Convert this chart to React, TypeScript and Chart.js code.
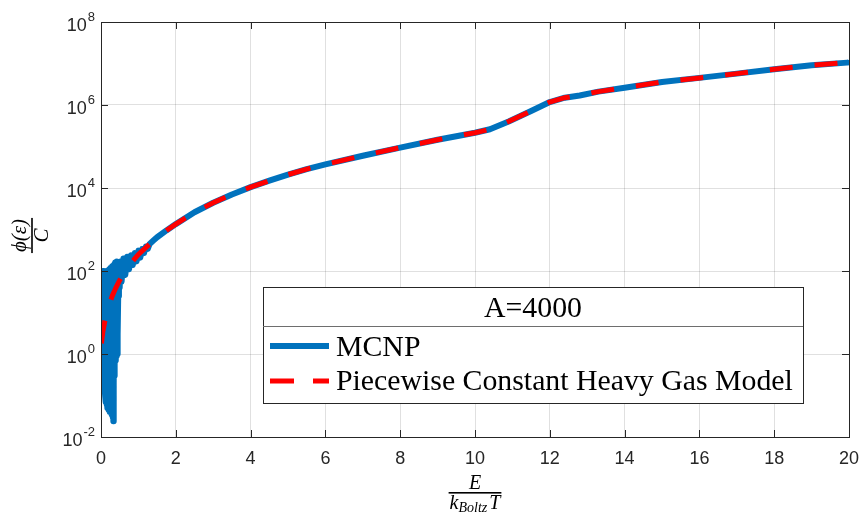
import React, { useEffect, useRef } from 'react';
import { Chart, registerables } from 'chart.js';

Chart.register(...registerables);

// ---- data ----
const xTickValues = [0, 2, 4, 6, 8, 10, 12, 14, 16, 18, 20];
const yTickExponents = [-2, 0, 2, 4, 6, 8];

const mcnpX = [
  0.0, 0.01, 0.02, 0.03, 0.04, 0.05, 0.06, 0.07, 0.08, 0.09,
  0.1, 0.11, 0.12, 0.13, 0.14, 0.15, 0.16, 0.17, 0.18, 0.19,
  0.2, 0.21, 0.22, 0.23, 0.24, 0.25, 0.26, 0.27, 0.28, 0.29,
  0.3, 0.31, 0.32, 0.33, 0.34, 0.35, 0.36, 0.37, 0.38, 0.39,
  0.4, 0.41, 0.42, 0.43, 0.44, 0.45,
  0.46, 0.48, 0.5, 0.52, 0.55, 0.6, 0.65, 0.7, 0.75, 0.8,
  0.85, 0.9, 0.95, 1.0, 1.05, 1.1, 1.15, 1.2, 1.25, 1.3, 1.4, 1.5, 1.75,
  2, 2.5, 3, 3.5, 4, 4.5, 5, 5.5, 6, 7, 8, 9, 10, 10.4, 10.9, 11.5, 12, 12.4,
  12.8, 13.3, 14, 15, 16, 17, 18, 19, 19.95,
];
const mcnpY = [
  90, 0.6, 100, 0.3, 85, 0.2, 100, 0.15, 70, 0.12,
  95, 0.1, 80, 0.07, 100, 0.06, 90, 0.05, 100, 0.05,
  85, 0.045, 110, 0.04, 100, 0.045, 120, 0.04, 110, 0.035,
  130, 0.03, 120, 0.024, 140, 0.3, 150, 0.5, 160, 0.7,
  150, 0.9, 170, 1.0, 160, 3,
  25, 130, 40, 170, 55, 200, 80, 220, 110, 240,
  140, 270, 170, 310, 210, 340, 270, 390, 340, 450, 540, 650, 950,
  1350, 2600, 4400, 7000, 10500, 15000, 21000, 28500, 37000, 60000, 94000, 145000, 215000, 260000, 400000, 720000, 1180000, 1500000,
  1700000, 2100000, 2600000, 3600000, 4500000, 5700000, 7300000, 9100000, 10500000,
];

const modelX = [
  0.01, 0.05, 0.1, 0.2, 0.3, 0.4, 0.5, 0.7, 1.0, 1.5, 1.75, 2, 2.5, 3, 3.5, 4, 4.5, 5, 5.5, 6, 7, 8, 9, 10,
  10.4, 10.9, 11.5, 12, 12.4, 12.8, 13.3, 14, 15, 16, 17, 18, 19, 19.9,
];
const modelY = [
  1.8, 3.5, 6, 14, 25, 40, 60, 120, 250, 650, 950, 1350, 2600, 4400, 7000, 10500, 15000, 21000, 28500, 37000, 60000, 94000, 145000, 215000,
  260000, 400000, 720000, 1180000, 1500000, 1700000, 2100000, 2600000, 3600000, 4500000, 5700000, 7300000, 9100000, 10500000,
];

const legendTitle = 'A=4000';
const seriesNames = ['MCNP', 'Piecewise Constant Heavy Gas Model'];
const xLabelNum = 'E';
const xLabelDen = ['k', 'Boltz', 'T'];
const yLabelNum = 'ϕ(ε)';
const yLabelDen = 'C';

const BLUE = '#0072BD';
const RED = '#FF0000';
const AXIS = '#262626';

const decorPlugin = {
  id: 'decor',
  afterDraw(chart: any) {
    const ctx: CanvasRenderingContext2D = chart.ctx;
    const a = chart.chartArea;
    const xs = chart.scales.x;
    const ys = chart.scales.y;
    ctx.save();

    // axis box
    ctx.strokeStyle = AXIS;
    ctx.lineWidth = 1;
    ctx.strokeRect(Math.round(a.left) + 0.5, Math.round(a.top) + 0.5, Math.round(a.right - a.left), Math.round(a.bottom - a.top));

    // inner tick marks
    const tl = 7;
    ctx.beginPath();
    xTickValues.forEach((v) => {
      const px = Math.round(xs.getPixelForValue(v)) + 0.5;
      ctx.moveTo(px, a.bottom);
      ctx.lineTo(px, a.bottom - tl);
      ctx.moveTo(px, a.top);
      ctx.lineTo(px, a.top + tl);
    });
    yTickExponents.forEach((e) => {
      const py = Math.round(ys.getPixelForValue(Math.pow(10, e))) + 0.5;
      ctx.moveTo(a.left, py);
      ctx.lineTo(a.left + tl, py);
      ctx.moveTo(a.right, py);
      ctx.lineTo(a.right - tl, py);
    });
    ctx.stroke();

    // tick labels
    ctx.fillStyle = AXIS;
    ctx.font = '18px "Liberation Sans", Arial, sans-serif';
    ctx.textAlign = 'center';
    ctx.textBaseline = 'middle';
    xTickValues.forEach((v) => {
      ctx.fillText(String(v), xs.getPixelForValue(v), a.bottom + 22);
    });
    yTickExponents.forEach((e) => {
      const py = ys.getPixelForValue(Math.pow(10, e));
      const expStr = String(e);
      ctx.font = '13px "Liberation Sans", Arial, sans-serif';
      ctx.textAlign = 'right';
      const expRight = a.left - 6;
      ctx.fillText(expStr, expRight, py - 5);
      const ew = ctx.measureText(expStr).width;
      ctx.font = '18px "Liberation Sans", Arial, sans-serif';
      ctx.fillText('10', expRight - ew - 1, py + 4);
    });

    // x axis title (fraction)
    const cx = (a.left + a.right) / 2;
    ctx.fillStyle = '#000';
    ctx.textAlign = 'center';
    ctx.textBaseline = 'alphabetic';
    ctx.font = 'italic 20px "Liberation Serif", serif';
    ctx.fillText(xLabelNum, cx, a.bottom + 52);
    const bigF = 'italic 20px "Liberation Serif", serif';
    const smallF = 'italic 14px "Liberation Serif", serif';
    ctx.font = bigF;
    const wk = ctx.measureText(xLabelDen[0]).width;
    const wT = ctx.measureText(xLabelDen[2]).width;
    ctx.font = smallF;
    const wB = ctx.measureText(xLabelDen[1]).width;
    const total = wk + wB + wT + 2;
    let sx = cx - total / 2;
    const denBase = a.bottom + 72;
    ctx.textAlign = 'left';
    ctx.font = bigF;
    ctx.fillText(xLabelDen[0], sx, denBase);
    sx += wk;
    ctx.font = smallF;
    ctx.fillText(xLabelDen[1], sx, denBase + 3);
    sx += wB + 2;
    ctx.font = bigF;
    ctx.fillText(xLabelDen[2], sx, denBase);
    ctx.fillRect(cx - total / 2 - 1, a.bottom + 55, total + 2, 1.6);

    // y axis title (rotated fraction)
    const ycy = (a.top + a.bottom) / 2 + 6;
    ctx.save();
    ctx.translate(32, ycy);
    ctx.rotate(-Math.PI / 2);
    ctx.textAlign = 'center';
    ctx.font = 'italic 21px "Liberation Serif", serif';
    const wn = ctx.measureText(yLabelNum).width;
    ctx.fillText(yLabelNum, 0, -6);
    ctx.fillText(yLabelDen, 0, 16);
    ctx.fillRect(-wn / 2 - 1, -0.8, wn + 2, 1.6);
    ctx.restore();

    // legend
    const L = 263, R = 803, T = 287, B = 403, sep = 326;
    ctx.fillStyle = '#fff';
    ctx.fillRect(L, T, R - L, B - T);
    ctx.strokeStyle = AXIS;
    ctx.lineWidth = 1;
    ctx.strokeRect(L + 0.5, T + 0.5, R - L, B - T);
    ctx.strokeStyle = '#6e6e6e';
    ctx.beginPath();
    ctx.moveTo(L, sep + 0.5);
    ctx.lineTo(R, sep + 0.5);
    ctx.stroke();

    ctx.font = '100px "Liberation Serif", serif';
    const w100 = ctx.measureText(seriesNames[1]).width;
    const fs = (100 * 457) / w100;
    ctx.font = `${fs.toFixed(2)}px "Liberation Serif", serif`;
    ctx.fillStyle = '#000';
    ctx.textBaseline = 'alphabetic';
    ctx.textAlign = 'center';
    ctx.fillText(legendTitle, (L + R) / 2, 317);
    ctx.textAlign = 'left';
    ctx.fillText(seriesNames[0], 336, 356);
    ctx.fillText(seriesNames[1], 336, 390);

    ctx.lineCap = 'butt';
    ctx.strokeStyle = BLUE;
    ctx.lineWidth = 6;
    ctx.beginPath();
    ctx.moveTo(270, 346);
    ctx.lineTo(329, 346);
    ctx.stroke();
    ctx.strokeStyle = RED;
    ctx.lineWidth = 5;
    ctx.beginPath();
    ctx.moveTo(270, 381);
    ctx.lineTo(294, 381);
    ctx.moveTo(313, 381);
    ctx.lineTo(329, 381);
    ctx.stroke();

    ctx.restore();
  },
};

export default function App() {
  const ref = useRef<HTMLCanvasElement | null>(null);

  useEffect(() => {
    if (!ref.current) return;
    const chart = new Chart(ref.current, {
      type: 'line',
      data: {
        datasets: [
          {
            label: seriesNames[1],
            data: modelX.map((x, i) => ({ x, y: modelY[i] })),
            borderColor: RED,
            borderWidth: 5,
            borderDash: [23, 22],
            borderCapStyle: 'butt',
            pointRadius: 0,
            tension: 0,
            fill: false,
            order: 0,
          },
          {
            label: seriesNames[0],
            data: mcnpX.map((x, i) => ({ x, y: mcnpY[i] })),
            borderColor: BLUE,
            borderWidth: 6,
            borderJoinStyle: 'round',
            borderCapStyle: 'round',
            pointRadius: 0,
            tension: 0,
            fill: false,
            order: 1,
          },
        ],
      },
      options: {
        animation: false,
        responsive: false,
        events: [],
        layout: { padding: { left: 101, top: 22, right: 15, bottom: 77 } },
        plugins: { legend: { display: false }, tooltip: { enabled: false } },
        scales: {
          x: {
            type: 'linear',
            min: 0,
            max: 20,
            ticks: { display: false, stepSize: 2 },
            grid: { color: 'rgba(0,0,0,0.12)', drawTicks: false, lineWidth: 1 },
            border: { display: false },
          },
          y: {
            type: 'logarithmic',
            min: 1e-2,
            max: 1e8,
            afterBuildTicks: (scale: any) => {
              scale.ticks = yTickExponents.map((e) => ({ value: Math.pow(10, e) }));
            },
            ticks: { display: false },
            grid: { color: 'rgba(0,0,0,0.12)', drawTicks: false, lineWidth: 1 },
            border: { display: false },
          },
        },
      },
      plugins: [decorPlugin],
    } as any);
    return () => chart.destroy();
  }, []);

  return (
    <div style={{ position: 'fixed', left: 0, top: 0, width: 864, height: 514, background: '#fff' }}>
      <canvas ref={ref} width={864} height={514} style={{ width: 864, height: 514, display: 'block' }} />
    </div>
  );
}
